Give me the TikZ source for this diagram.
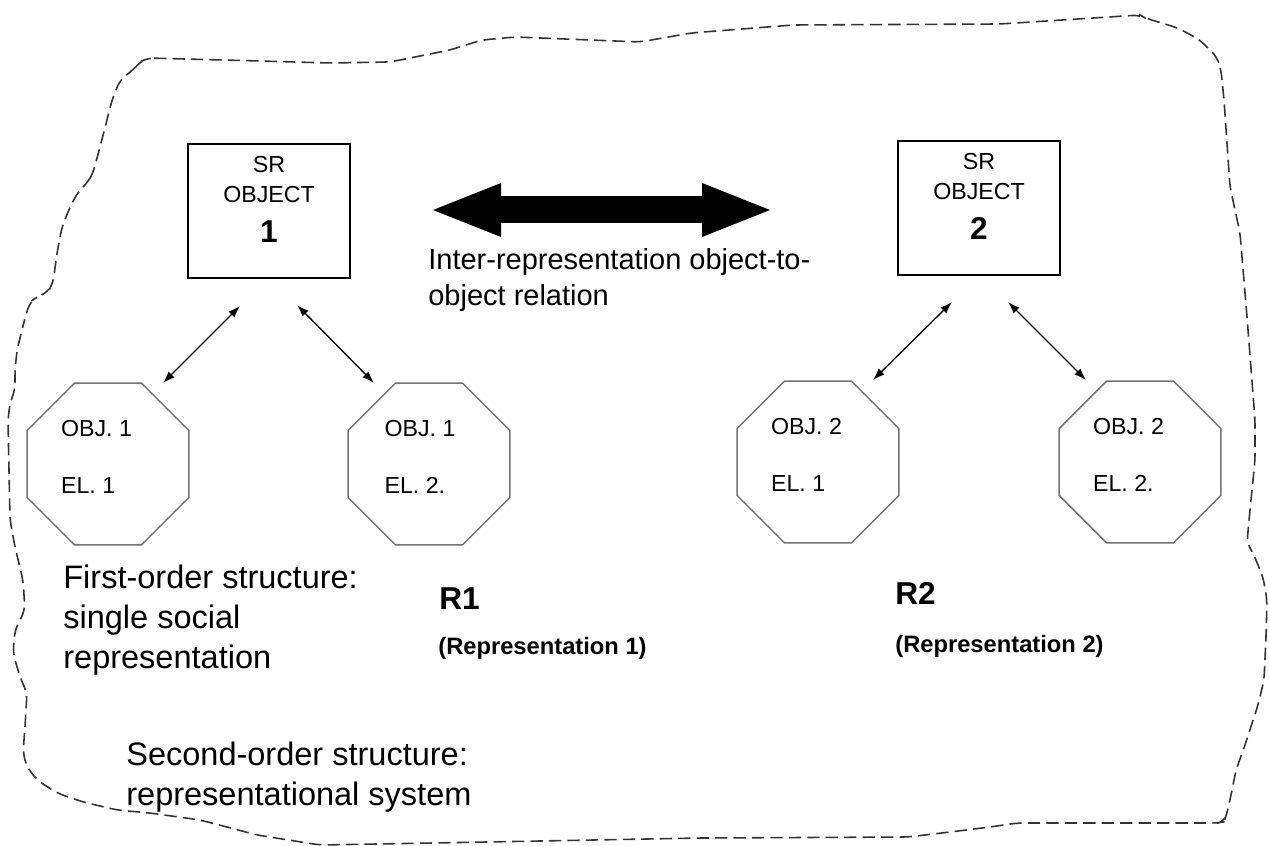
\documentclass[tikz,border=0pt]{standalone}
\usepackage{fontspec}
\setmainfont{Liberation Sans}
\usetikzlibrary{positioning,calc,shapes.geometric,arrows.meta}
\newcommand{\srnum}{\fontsize{18}{18}\selectfont\bfseries}
\begin{document}
\begin{tikzpicture}[
  x=0.2mm, y=-0.2mm,
  srbox/.style={draw,line width=0.8pt,minimum width=32.4mm,minimum height=26.8mm,inner sep=0pt},
  srtext/.style={align=center,inner sep=0pt,font=\fontsize{13.2}{17}\selectfont},
  octo/.style={draw=black!55,line width=0.85pt,regular polygon,regular polygon sides=8,minimum size=35mm,inner sep=0pt},
  octtext/.style={align=left,inner sep=0pt,font=\fontsize{13.2}{32.3}\selectfont},
  linkarrow/.style={line width=0.75pt,{Latex[length=2.4mm,width=1.7mm]}-{Latex[length=2.4mm,width=1.7mm]}},
  bigarrow/.style={line width=5.4mm,{Triangle[length=13.6mm,width=10.8mm,line width=0pt]}-{Triangle[length=13.6mm,width=10.8mm,line width=0pt]}},
  notetext/.style={align=left,anchor=north west,inner sep=0pt,font=\fontsize{18.5}{22.7}\selectfont},
  rname/.style={anchor=north west,inner sep=0pt,font=\fontsize{18}{20}\selectfont\bfseries},
  rdesc/.style={anchor=north west,inner sep=0pt,font=\fontsize{13.5}{16}\selectfont\bfseries},
  boundary/.style={draw=black!80,line width=0.9pt,dash pattern=on 7pt off 3.5pt,rounded corners=4pt}
]
\useasboundingbox (0,0) rectangle (1269,846);

\draw[boundary] (147,58) -- (260,61) -- (330,63) -- (390,62) -- (450,50) -- (482,40) -- (515,37)
  -- (640,42) -- (691,33) -- (793,25) -- (1000,24) -- (1140,15) -- (1145,18) -- (1178,28)
  -- (1200,40) -- (1217,57) -- (1221,70) -- (1224,100) -- (1230,187) -- (1240,233) -- (1247,317)
  -- (1255,420) -- (1255,460) -- (1249,520) -- (1247,543) -- (1253,553) -- (1263,577) -- (1267,600)
  -- (1266,637) -- (1264,680) -- (1258,705) -- (1245,745) -- (1236,770) -- (1231,795) -- (1227,813)
  -- (1224,822) -- (1218,823) -- (1017,823) -- (990,827) -- (950,832) -- (908,837) -- (700,838)
  -- (433,843) -- (320,845) -- (257,835) -- (227,827) -- (200,820) -- (150,813) -- (117,810)
  -- (83,802) -- (57,793) -- (37,780) -- (27,767) -- (23,753) -- (25,727) -- (27,693) -- (20,677)
  -- (13,653) -- (15,630) -- (25,610) -- (23,580) -- (15,547) -- (10,520) -- (9,470) -- (8,420)
  -- (10,403) -- (15,390) -- (15,370) -- (17,350) -- (22,330) -- (25,318) -- (30,302) -- (37,297)
  -- (48,292) -- (53,283) -- (57,253) -- (62,227) -- (70,207) -- (78,192) -- (88,182) -- (93,173)
  -- (100,147) -- (107,120) -- (112,100) -- (120,80) -- (133,70) -- (140,62) -- cycle;

\node[srbox] (sr1) at (269,211) {};
\node[srtext,below=2.6mm of sr1.north] (sr1t) {SR\\OBJECT\\[5.7pt]{\srnum 1}};
\node[srbox] (sr2) at (979,208) {};
\node[srtext,below=2.6mm of sr2.north] (sr2t) {SR\\OBJECT\\[5.7pt]{\srnum 2}};

\coordinate (bl) at (433,210);
\coordinate (br) at (770,210);
\draw[bigarrow] (bl) -- (br);
\node[notetext,font=\fontsize{16.5}{20.4}\selectfont] (inter) at (428,248) {Inter-representation object-to-\\object relation};

\node[octo] (o11) at (108,464) {};
\node[octtext] (o11t) at ($(o11)+(-11.5,-7)$) {OBJ. 1\\EL. 1};
\node[octo] (o12) at (429,464) {};
\node[octtext] (o12t) at ($(o12)+(-9,-7)$) {OBJ. 1\\EL. 2.};
\node[octo] (o21) at (818,462) {};
\node[octtext] (o21t) at ($(o21)+(-11.5,-7)$) {OBJ. 2\\EL. 1};
\node[octo] (o22) at (1140,462) {};
\node[octtext] (o22t) at ($(o22)+(-11.5,-7)$) {OBJ. 2\\EL. 2.};

\coordinate (a1) at (240,306);
\coordinate (a2) at (163,383);
\coordinate (a3) at (297,305);
\coordinate (a4) at (374,383);
\coordinate (a5) at (952,302);
\coordinate (a6) at (873,380);
\coordinate (a7) at (1008,302);
\coordinate (a8) at (1086,380);
\draw[linkarrow] (a1) -- (a2);
\draw[linkarrow] (a3) -- (a4);
\draw[linkarrow] (a5) -- (a6);
\draw[linkarrow] (a7) -- (a8);

\node[notetext] (first) at (63,565) {First-order structure:\\single social\\representation};
\node[rname] (r1) at (439,587) {R1};
\node[rdesc] (r1d) at (438,637) {(Representation 1)};
\node[rname] (r2) at (895,582) {R2};
\node[rdesc] (r2d) at (895,635) {(Representation 2)};
\node[notetext] (second) at (126,742) {Second-order structure:\\representational system};
\end{tikzpicture}
\end{document}
